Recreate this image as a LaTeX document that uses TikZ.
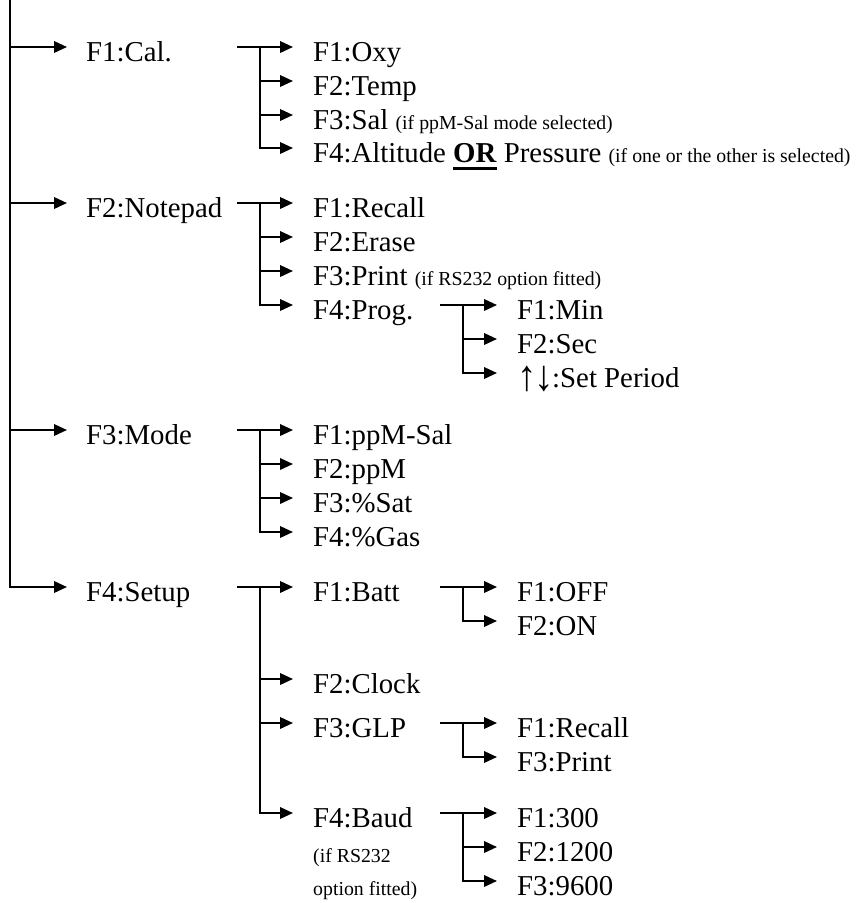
\documentclass[tikz,border=0pt]{standalone}
\usepackage{fontspec}
\usepackage{graphicx}
\setmainfont{Liberation Serif}
\usetikzlibrary{arrows.meta}
\newcommand\myul[1]{\setbox0\hbox{\textbf{#1}}\rlap{\rule[-7.5pt]{\wd0}{2.5pt}}\box0\relax}
\newcommand\smalltxt{\fontsize{19.8}{24}\selectfont}
\newcommand\tallarrow[1]{\makebox[17.5pt][l]{\raisebox{-3pt}{\scalebox{1.35}[1.5]{#1}}}}
\begin{document}
\begin{tikzpicture}[x=1pt,y=-1pt,
  lbl/.style={anchor=base west, inner sep=0pt, font=\fontsize{28.8}{34}\selectfont},
  note/.style={anchor=base west, inner sep=0pt, font=\smalltxt},
  wire/.style={line width=2pt},
  arr/.style={wire,-{Triangle[length=13pt,width=11.5pt]}}]
\useasboundingbox (0,0) rectangle (865,903);

% ---- level 1
\node[lbl] (cal)   at (86,61)  {F1:Cal.};
\node[lbl] (note)  at (86,217) {F2:Notepad};
\node[lbl] (mode)  at (86,444) {F3:Mode};
\node[lbl] (setup) at (86,601) {F4:Setup};
\coordinate (top) at (10,0);
\draw[arr] (top) |- ([shift={(-19,-14)}]setup.base west);
\draw[arr] ([shift={(-76,-14)}]cal.base west) -- ([shift={(-19,-14)}]cal.base west);
\draw[arr] ([shift={(-76,-14)}]note.base west) -- ([shift={(-19,-14)}]note.base west);
\draw[arr] ([shift={(-76,-14)}]mode.base west) -- ([shift={(-19,-14)}]mode.base west);

% ---- F1:Cal. children
\node[lbl] (oxy)  at (313,61)  {F1:Oxy};
\node[lbl] (temp) at (313,95)  {F2:Temp};
\node[lbl] (sal)  at (313,129) {F3:Sal {\smalltxt (if ppM-Sal mode selected)}};
\node[lbl] (alt)  at (313,162) {F4:Altitude \myul{OR} Pressure {\smalltxt (if one or the other is selected)}};
\coordinate (calout) at (237,47);
\coordinate (calbar) at (260,47);
\draw[arr] (calout) -- ([shift={(-20,-14)}]oxy.base west);
\draw[arr] (calbar) |- ([shift={(-20,-14)}]temp.base west);
\draw[arr] (calbar) |- ([shift={(-20,-14)}]sal.base west);
\draw[arr] (calbar) |- ([shift={(-20,-14)}]alt.base west);

% ---- F2:Notepad children
\node[lbl] (recall) at (313,217) {F1:Recall};
\node[lbl] (erase)  at (313,251) {F2:Erase};
\node[lbl] (print)  at (313,285) {F3:Print {\smalltxt (if RS232 option fitted)}};
\node[lbl] (prog)   at (313,319) {F4:Prog.};
\coordinate (noteout) at (237,203);
\coordinate (notebar) at (260,203);
\draw[arr] (noteout) -- ([shift={(-20,-14)}]recall.base west);
\draw[arr] (notebar) |- ([shift={(-20,-14)}]erase.base west);
\draw[arr] (notebar) |- ([shift={(-20,-14)}]print.base west);
\draw[arr] (notebar) |- ([shift={(-20,-14)}]prog.base west);

% ---- F4:Prog. children
\node[lbl] (min) at (517,319) {F1:Min};
\node[lbl] (sec) at (517,353) {F2:Sec};
\node[lbl] (per) at (517,387) {\tallarrow{↑}\tallarrow{↓}:Set Period};
\coordinate (progout) at (440,305);
\coordinate (progbar) at (463,305);
\draw[arr] (progout) -- ([shift={(-20,-14)}]min.base west);
\draw[arr] (progbar) |- ([shift={(-20,-14)}]sec.base west);
\draw[arr] (progbar) |- ([shift={(-20,-14)}]per.base west);

% ---- F3:Mode children
\node[lbl] (ppmsal) at (313,444) {F1:ppM-Sal};
\node[lbl] (ppm)    at (313,478) {F2:ppM};
\node[lbl] (sat)    at (313,512) {F3:\%Sat};
\node[lbl] (gas)    at (313,546) {F4:\%Gas};
\coordinate (modeout) at (237,430);
\coordinate (modebar) at (260,430);
\draw[arr] (modeout) -- ([shift={(-20,-14)}]ppmsal.base west);
\draw[arr] (modebar) |- ([shift={(-20,-14)}]ppm.base west);
\draw[arr] (modebar) |- ([shift={(-20,-14)}]sat.base west);
\draw[arr] (modebar) |- ([shift={(-20,-14)}]gas.base west);

% ---- F4:Setup children
\node[lbl] (batt)  at (313,601) {F1:Batt};
\node[lbl] (clock) at (313,693) {F2:Clock};
\node[lbl] (glp)   at (313,737) {F3:GLP};
\node[lbl] (baud)  at (313,827) {F4:Baud};
\node[note] (bn1) at (313,862) {(if RS232};
\node[note] (bn2) at (313,895) {option fitted)};
\coordinate (setupout) at (237,587);
\coordinate (setupbar) at (260,587);
\draw[arr] (setupout) -- ([shift={(-20,-14)}]batt.base west);
\draw[arr] (setupbar) |- ([shift={(-20,-14)}]clock.base west);
\draw[arr] (setupbar) |- ([shift={(-20,-14)}]glp.base west);
\draw[arr] (setupbar) |- ([shift={(-20,-14)}]baud.base west);

% ---- F1:Batt children
\node[lbl] (off) at (517,601) {F1:OFF};
\node[lbl] (on)  at (517,635) {F2:ON};
\coordinate (battout) at (440,587);
\coordinate (battbar) at (463,587);
\draw[arr] (battout) -- ([shift={(-20,-14)}]off.base west);
\draw[arr] (battbar) |- ([shift={(-20,-14)}]on.base west);

% ---- F3:GLP children
\node[lbl] (grecall) at (517,737) {F1:Recall};
\node[lbl] (gprint)  at (517,771) {F3:Print};
\coordinate (glpout) at (440,723);
\coordinate (glpbar) at (463,723);
\draw[arr] (glpout) -- ([shift={(-20,-14)}]grecall.base west);
\draw[arr] (glpbar) |- ([shift={(-20,-14)}]gprint.base west);

% ---- F4:Baud children
\node[lbl] (b300)  at (517,827) {F1:300};
\node[lbl] (b1200) at (517,861) {F2:1200};
\node[lbl] (b9600) at (517,895) {F3:9600};
\coordinate (baudout) at (440,813);
\coordinate (baudbar) at (463,813);
\draw[arr] (baudout) -- ([shift={(-20,-14)}]b300.base west);
\draw[arr] (baudbar) |- ([shift={(-20,-14)}]b1200.base west);
\draw[arr] (baudbar) |- ([shift={(-20,-14)}]b9600.base west);
\end{tikzpicture}
\end{document}
